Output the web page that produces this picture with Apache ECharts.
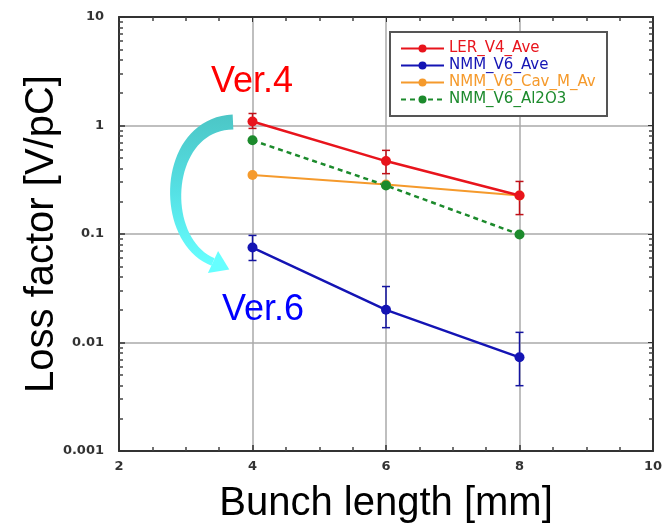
<!DOCTYPE html>
<html><head><meta charset="utf-8">
<script src="https://cdn.jsdelivr.net/npm/echarts@6/dist/echarts.min.js"></script>
<style>html,body{margin:0;padding:0;background:#fff}#c{width:672px;height:526px}</style>
</head><body><div id="c"></div>
<script>
var bunchLength = [4, 6, 8];
var xTicks = [2, 4, 6, 8, 10];
var yTicks = [0.001, 0.01, 0.1, 1, 10];
var seriesNames = ['LER_V4_Ave', 'NMM_V6_Ave', 'NMM_V6_Cav_M_Ave', 'NMM_V6_Al2O3'];
var lerV4 = [1.09, 0.47, 0.226];
var lerV4Low = [0.94, 0.36, 0.151];
var lerV4High = [1.29, 0.59, 0.305];
var nmmV6 = [0.075, 0.020, 0.0073];
var nmmV6Low = [0.057, 0.0137, 0.0040];
var nmmV6High = [0.097, 0.0328, 0.0124];
var nmmCav = [0.35, 0.286, 0.226];
var nmmAl2O3 = [0.73, 0.28, 0.099];
var colors = ['#e8141c', '#1414b4', '#f59a2c', '#1c8a2c'];

function pairs(v) { return bunchLength.map(function (x, i) { return [x, v[i]]; }); }
function errData(lo, hi) { return bunchLength.map(function (x, i) { return [x, lo[i], hi[i]]; }); }
function errSeries(lo, hi, color) {
  return {
    type: 'custom', data: errData(lo, hi), z: 3, silent: true,
    renderItem: function (params, api) {
      var x = api.value(0);
      var a = api.coord([x, api.value(1)]);
      var b = api.coord([x, api.value(2)]);
      var w = 4;
      var st = { stroke: color, lineWidth: 1.5 };
      return { type: 'group', children: [
        { type: 'line', shape: { x1: a[0], y1: a[1], x2: b[0], y2: b[1] }, style: st },
        { type: 'line', shape: { x1: a[0] - w, y1: a[1], x2: a[0] + w, y2: a[1] }, style: st },
        { type: 'line', shape: { x1: b[0] - w, y1: b[1], x2: b[0] + w, y2: b[1] }, style: st }
      ] };
    }
  };
}

// decorative tapered curved arrow (annotation, not data)
function arrowShapes() {
  var P = [[233, 122], [163, 124], [158, 240], [213, 262]];
  function bz(t) {
    var u = 1 - t;
    return [u*u*u*P[0][0] + 3*u*u*t*P[1][0] + 3*u*t*t*P[2][0] + t*t*t*P[3][0],
            u*u*u*P[0][1] + 3*u*u*t*P[1][1] + 3*u*t*t*P[2][1] + t*t*t*P[3][1]];
  }
  var left = [], right = [], n = 40;
  for (var i = 0; i <= n; i++) {
    var t = i / n, p = bz(t), q = bz(Math.min(1, t + 0.01)), r = bz(Math.max(0, t - 0.01));
    var dx = q[0] - r[0], dy = q[1] - r[1], L = Math.sqrt(dx*dx + dy*dy);
    var nx = -dy / L, ny = dx / L, w = (15 - 7 * t) / 2;
    left.push([p[0] + nx*w, p[1] + ny*w]);
    right.unshift([p[0] - nx*w, p[1] - ny*w]);
  }
  var end = bz(1), pre = bz(0.97), ddx = end[0] - pre[0], ddy = end[1] - pre[1], LL = Math.sqrt(ddx*ddx + ddy*ddy);
  ddx /= LL; ddy /= LL;
  var head = [[end[0] + ddx*18, end[1] + ddy*18], [end[0] - ddy*12, end[1] + ddx*12], [end[0] + ddy*12, end[1] - ddx*12]];
  var grad = new echarts.graphic.LinearGradient(0, 0, 0, 1, [{ offset: 0, color: '#4cc6c6' }, { offset: 0.5, color: '#55e0e4' }, { offset: 1, color: '#66ffff' }]);
  return [
    { type: 'polygon', z: 10, shape: { points: left.concat(right) }, style: { fill: grad } },
    { type: 'polygon', z: 10, shape: { points: head }, style: { fill: '#66ffff' } }
  ];
}

var tickFont = { color: '#333', fontSize: 13, fontWeight: 'bold', fontFamily: 'DejaVu Sans' };
var edgeAxis = {
  axisLabel: { show: false }, splitLine: { show: false },
  axisLine: { lineStyle: { color: '#333', width: 2 } },
  axisTick: { inside: true, length: 5, lineStyle: { color: '#333' } }
};
var chart = echarts.init(document.getElementById('c'));
chart.setOption({
  animation: false,
  grid: { left: 119, right: 19, top: 17, bottom: 75, outerBoundsMode: 'none', containLabel: false },
  legend: {
    orient: 'vertical', left: 390, top: 32, itemGap: 2, itemWidth: 43, itemHeight: 10,
    padding: [9, 8, 9, 10], borderColor: '#555', borderWidth: 2, backgroundColor: '#fff',
    textStyle: { fontSize: 15, lineHeight: 14, fontFamily: 'DejaVu Sans', width: 150, overflow: 'truncate', ellipsis: '' },
    data: seriesNames.map(function (n, i) { return { name: n, textStyle: { color: colors[i] } }; })
  },
  xAxis: [{
    type: 'value', min: xTicks[0], max: xTicks[xTicks.length - 1], interval: 2,
    name: 'Bunch length [mm]', nameLocation: 'middle', nameGap: 33, nameMoveOverlap: false,
    nameTextStyle: { fontSize: 40, color: '#000', fontFamily: 'Liberation Sans' },
    axisLine: { lineStyle: { color: '#333', width: 2 } },
    axisTick: { inside: true, length: 6, lineStyle: { color: '#333', width: 1.5 } },
    minorTick: { show: true, splitNumber: 4, length: 4, lineStyle: { color: '#444', width: 1.5 } },
    axisLabel: Object.assign({ margin: 9 }, tickFont),
    splitLine: { show: true, lineStyle: { color: '#aaa', width: 1.5 } }
  }, Object.assign({
    type: 'value', position: 'top', min: xTicks[0], max: xTicks[xTicks.length - 1], interval: 2,
    minorTick: { show: true, splitNumber: 4, length: 4, lineStyle: { color: '#444', width: 1.5 } }
  }, edgeAxis)],
  yAxis: [{
    type: 'log', logBase: 10, min: yTicks[0], max: yTicks[yTicks.length - 1],
    name: 'Loss factor [V/pC]', nameLocation: 'middle', nameGap: 57, nameMoveOverlap: false,
    nameTextStyle: { fontSize: 40, color: '#000', fontFamily: 'Liberation Sans' },
    axisLine: { lineStyle: { color: '#333', width: 2 } },
    axisTick: { inside: true, length: 6, lineStyle: { color: '#333', width: 1.5 } },
    minorTick: { show: true, splitNumber: 9, length: 4, lineStyle: { color: '#444', width: 1.5 } },
    axisLabel: Object.assign({ margin: 15, formatter: function (v) { return String(+(+v).toPrecision(3)); } }, tickFont),
    splitLine: { show: true, lineStyle: { color: '#aaa', width: 1.5 } }
  }, Object.assign({
    type: 'log', logBase: 10, position: 'right', min: yTicks[0], max: yTicks[yTicks.length - 1],
    minorTick: { show: true, splitNumber: 9, length: 4, lineStyle: { color: '#444', width: 1.5 } }
  }, edgeAxis)],
  series: [
    { name: seriesNames[0], type: 'line', data: pairs(lerV4), color: colors[0], symbol: 'circle', symbolSize: 10, lineStyle: { width: 2.5 }, z: 5 },
    { name: seriesNames[1], type: 'line', data: pairs(nmmV6), color: colors[1], symbol: 'circle', symbolSize: 10, lineStyle: { width: 2.5 }, z: 5 },
    { name: seriesNames[2], type: 'line', data: pairs(nmmCav), color: colors[2], symbol: 'circle', symbolSize: 10, lineStyle: { width: 2 }, z: 4 },
    { name: seriesNames[3], type: 'line', data: pairs(nmmAl2O3), color: colors[3], symbol: 'circle', symbolSize: 10, lineStyle: { width: 2.5, type: [5, 4] }, z: 4 },
    errSeries(lerV4Low, lerV4High, '#c01018'),
    errSeries(nmmV6Low, nmmV6High, '#1414a0')
  ],
  graphic: [
    { type: 'text', left: 211, top: 64, style: { text: 'Ver.4', fill: '#ff0000', fontSize: 36, fontFamily: 'Liberation Sans' }, z: 10 },
    { type: 'text', left: 222, top: 292, style: { text: 'Ver.6', fill: '#0000ff', fontSize: 36, fontFamily: 'Liberation Sans' }, z: 10 }
  ].concat(arrowShapes())
});
</script></body></html>
